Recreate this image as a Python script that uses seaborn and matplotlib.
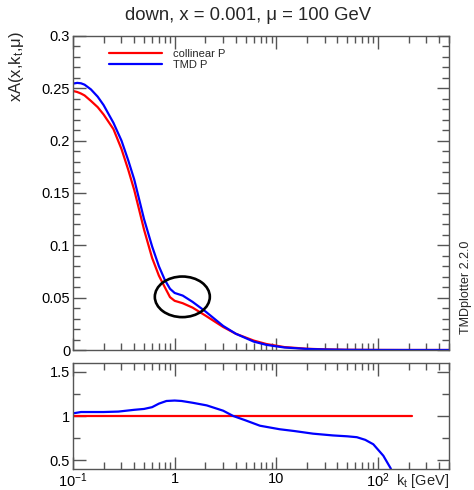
import matplotlib
matplotlib.use("Agg")
import numpy as np
import pandas as pd
import seaborn as sns
import matplotlib.pyplot as plt
from matplotlib.patches import Ellipse
from matplotlib.ticker import MultipleLocator, LogLocator, FuncFormatter, NullFormatter

# ---- data ----
kt = [0.1, 0.11, 0.12, 0.13, 0.15, 0.175, 0.2, 0.25, 0.3, 0.35, 0.4, 0.45, 0.5, 0.6, 0.7, 0.8,
      0.9, 1.0, 1.2, 1.5, 2.0, 3.0, 4.0, 6.0, 8.0, 12.0, 20.0, 30.0, 50.0, 100.0, 200.0, 500.0]
collinear = [0.2475, 0.2465, 0.245, 0.2432, 0.238, 0.232, 0.225, 0.211, 0.192, 0.172, 0.153,
             0.133, 0.115, 0.088, 0.071, 0.060, 0.0505, 0.047, 0.0447, 0.0405, 0.033, 0.022,
             0.0155, 0.009, 0.0057, 0.0028, 0.0012, 0.0006, 0.0002, 0.00005, 0.0, 0.0]
tmd = [0.2545, 0.2552, 0.2548, 0.2535, 0.249, 0.242, 0.234, 0.217, 0.200, 0.181, 0.163,
       0.143, 0.125, 0.099, 0.080, 0.067, 0.0585, 0.0545, 0.052, 0.046, 0.037, 0.023, 0.0155,
       0.008, 0.0049, 0.0024, 0.001, 0.0005, 0.00015, 0.00003, 0.0, 0.0]

ratio_kt = [0.1, 0.12, 0.15, 0.2, 0.28, 0.4, 0.5, 0.6, 0.7, 0.83, 1.0, 1.17, 1.5, 2.07, 3.0,
            3.77, 5.0, 6.9, 10.8, 15.0, 23.0, 36.0, 50.0, 62.0, 75.0, 90.0, 113.0, 133.0, 145.0]
ratio_tmd = [1.03, 1.045, 1.045, 1.045, 1.05, 1.07, 1.08, 1.10, 1.14, 1.17, 1.175, 1.17, 1.15,
             1.12, 1.06, 1.0, 0.95, 0.89, 0.85, 0.83, 0.80, 0.78, 0.77, 0.76, 0.73, 0.68,
             0.55, 0.41, 0.30]
ratio_coll_kt = [0.1, 215.0]
ratio_coll = [1.0, 1.0]

series_names = ["collinear P", "TMD P"]
colors = {"collinear P": "#ff0000", "TMD P": "#0000ff"}
title = "down, x = 0.001, \u03bc = 100 GeV"
ylabel = "xA(x,k$_\\mathregular{t}$,\u03bc)"
xlabel = "k$_\\mathregular{t}$ [GeV]"
side_text = "TMDplotter 2.2.0"
xtick_labels = {0.1: "$10^{-1}$", 1.0: "1", 10.0: "10", 100.0: "$10^{2}$"}

# ---- style ----
sns.set_theme(style="ticks")
plt.rcParams['font.family'] = ['Liberation Sans', 'DejaVu Sans']
plt.rcParams['mathtext.fontset'] = 'custom'
plt.rcParams['mathtext.rm'] = 'Liberation Sans'
plt.rcParams['mathtext.it'] = 'Liberation Sans:italic'
plt.rcParams['mathtext.bf'] = 'Liberation Sans:bold'

W, H = 474, 490
fig = plt.figure(figsize=(W / 100, H / 100), dpi=100)


def rect(x0, y0, x1, y1):
    return [x0 / W, 1 - y1 / H, (x1 - x0) / W, (y1 - y0) / H]


ax = fig.add_axes(rect(73, 36, 449, 350))
axr = fig.add_axes(rect(73, 363, 449, 469))

n = len(kt)
df = pd.DataFrame({"kt": kt * 2, "val": collinear + tmd,
                   "series": [series_names[0]] * n + [series_names[1]] * n})
sns.lineplot(data=df, x="kt", y="val", hue="series", palette=colors, linewidth=1.6,
             ax=ax, sort=False, estimator=None)

dfr = pd.DataFrame({"kt": ratio_coll_kt + ratio_kt,
                    "val": ratio_coll + ratio_tmd,
                    "series": [series_names[0]] * len(ratio_coll_kt) + [series_names[1]] * len(ratio_kt)})
sns.lineplot(data=dfr, x="kt", y="val", hue="series", palette=colors, linewidth=1.6,
             ax=axr, sort=False, estimator=None, legend=False)

edge = "#555555"
for a in (ax, axr):
    a.set_xscale("log")
    a.set_xlim(0.1, 500)
    a.set_xlabel("")
    a.set_ylabel("")
    for s in a.spines.values():
        s.set_color(edge)
        s.set_linewidth(1.0)
    a.xaxis.set_major_locator(LogLocator(base=10, numticks=10))
    a.xaxis.set_minor_locator(LogLocator(base=10, subs=np.arange(2, 10), numticks=20))
    a.tick_params(which="both", direction="in", top=True, right=True, color=edge,
                  labelsize=10.5, labelcolor="black")
    a.tick_params(which="major", length=9, width=1)
    a.tick_params(which="minor", length=5, width=1)
    a.tick_params(axis="y", pad=2)
    a.tick_params(axis="x", pad=2)

ax.set_ylim(0, 0.3)
ax.yaxis.set_major_locator(MultipleLocator(0.05))
ax.yaxis.set_minor_locator(MultipleLocator(0.01))
ax.yaxis.set_major_formatter(FuncFormatter(lambda v, p: f"{v:g}"))
ax.xaxis.set_major_formatter(NullFormatter())
ax.xaxis.set_minor_formatter(NullFormatter())

axr.set_ylim(0.4, 1.6)
axr.yaxis.set_major_locator(MultipleLocator(0.5))
axr.yaxis.set_minor_locator(MultipleLocator(0.25))
axr.yaxis.set_major_formatter(FuncFormatter(lambda v, p: f"{v:g}"))
axr.xaxis.set_major_formatter(FuncFormatter(lambda v, p: xtick_labels.get(round(v, 6), "")))
axr.xaxis.set_minor_formatter(NullFormatter())

# legend
handles, labels = ax.get_legend_handles_labels()
ax.legend(handles, labels, loc="center left",
          bbox_to_anchor=(109 / W, 1 - 59.5 / H), bbox_transform=fig.transFigure,
          frameon=False, fontsize=8, handlelength=4.8, handletextpad=1.0,
          labelspacing=0.05, borderpad=0, borderaxespad=0)

# highlight ellipse around the shoulder
cx, cy = (ax.transData + ax.transAxes.inverted()).transform((1.19, 0.0508))
ax.add_patch(Ellipse((cx, cy), 55 / 376, 40.6 / 314, transform=ax.transAxes,
                     fill=False, edgecolor="black", linewidth=1.9, zorder=5))

fig.text(248.5 / W, 1 - 15 / H, title, ha="center", va="center", fontsize=13.3)
fig.text(17 / W, 1 - 31 / H, ylabel, ha="center", va="top", rotation=90, fontsize=12)
fig.text(449 / W, 1 - 481 / H, xlabel, ha="right", va="center", fontsize=10.5)
fig.text(466 / W, 1 - 287 / H, side_text, ha="center", va="center", rotation=90, fontsize=9)

fig.savefig("out.png", dpi=100)
